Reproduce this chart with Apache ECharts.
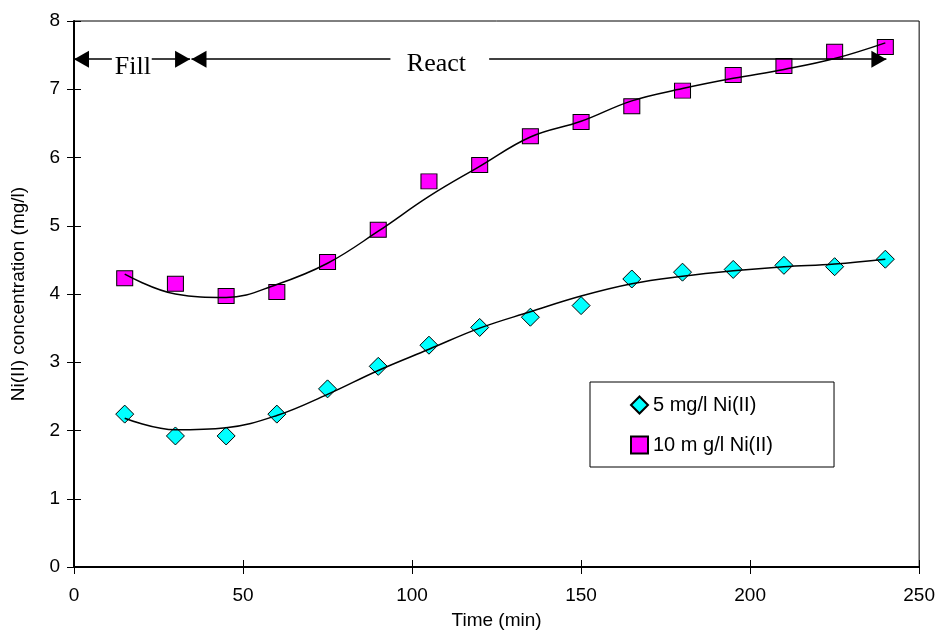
<!DOCTYPE html>
<html>
<head>
<meta charset="utf-8">
<script src="https://cdn.jsdelivr.net/npm/echarts@6/dist/echarts.min.js"></script>
<style>
html,body{margin:0;padding:0;background:#fff;}
#chart{width:938px;height:635px;}
</style>
</head>
<body>
<div id="chart"></div>
<script>
// ---- data ----
const timeMin = [15, 30, 45, 60, 75, 90, 105, 120, 135, 150, 165, 180, 195, 210, 225, 240];
const conc5 = [2.24, 1.92, 1.92, 2.24, 2.61, 2.94, 3.25, 3.51, 3.66, 3.83, 4.22, 4.32, 4.36, 4.42, 4.40, 4.51];
const conc10 = [4.23, 4.15, 3.97, 4.03, 4.47, 4.94, 5.65, 5.89, 6.31, 6.52, 6.75, 6.98, 7.21, 7.34, 7.55, 7.62];
const trend5 = [2.18, 2.01, 2.04, 2.22, 2.53, 2.88, 3.19, 3.50, 3.74, 3.97, 4.15, 4.26, 4.34, 4.40, 4.44, 4.51];
const trend10 = [4.29, 4.00, 3.95, 4.14, 4.45, 4.92, 5.43, 5.87, 6.30, 6.53, 6.83, 7.01, 7.16, 7.29, 7.45, 7.68];
const seriesNames = ['5 mg/l Ni(II)', '10 m g/l Ni(II)'];
const xTicks = [0, 50, 100, 150, 200, 250];
const yTicks = [0, 1, 2, 3, 4, 5, 6, 7, 8];
const xTitle = 'Time (min)';
const yTitle = 'Ni(II) concentration (mg/l)';
// phase annotations (minutes) and arrow level (mg/l)
const phaseLabels = ['Fill', 'React'];
const phaseLabelX = [17.4, 107.2];
const phaseLabelY = [7.33, 7.37];
const arrowY = 7.44;
const fillRange = [0, 34.33];
const fillGap = [11.2, 23.0];
const reactRange = [34.75, 240.3];
const reactGap = [93.6, 122.8];

const pts = (xs, ys) => xs.map((x, i) => [x, ys[i]]);
const SANS = 'Liberation Sans';
const SERIF = 'Liberation Serif';

const arrowHead = {symbol: 'triangle', symbolSize: [17, 15], symbolOffset: [0, 7.5]};
const noHead = {symbol: 'none'};
function seg(a, b, headA, headB) {
  return [Object.assign({coord: [a, arrowY]}, headA), Object.assign({coord: [b, arrowY]}, headB)];
}

const chart = echarts.init(document.getElementById('chart'));
const baseX = {type: 'value', min: xTicks[0], max: xTicks[xTicks.length - 1], interval: xTicks[1] - xTicks[0]};
const baseY = {type: 'value', min: yTicks[0], max: yTicks[yTicks.length - 1], interval: yTicks[1] - yTicks[0]};

chart.setOption({
  animation: false,
  backgroundColor: '#fff',
  grid: {left: 74, right: 15, top: 21, bottom: 61, show: true, borderColor: '#000', borderWidth: 1, backgroundColor: 'transparent'},
  legend: {
    orient: 'vertical', left: 590, top: 382,
    data: seriesNames,
    backgroundColor: '#fff', borderColor: '#000', borderWidth: 1,
    padding: [13, 61, 12, 40], itemGap: 20, itemWidth: 17, itemHeight: 17,
    textStyle: {fontFamily: SANS, fontSize: 20, color: '#000'}
  },
  xAxis: [
    Object.assign({}, baseX, {
      name: xTitle, nameLocation: 'middle', nameGap: 44,
      nameTextStyle: {fontFamily: SANS, fontSize: 19, color: '#000'},
      axisLine: {show: true, onZero: false, lineStyle: {color: '#000', width: 2}},
      axisTick: {show: true, inside: false, length: 7, lineStyle: {color: '#000', width: 1}},
      axisLabel: {fontFamily: SANS, fontSize: 19, color: '#000', margin: 19},
      splitLine: {show: false}
    }),
    Object.assign({}, baseX, {
      position: 'bottom',
      axisLine: {show: false}, axisLabel: {show: false}, splitLine: {show: false},
      axisTick: {show: true, inside: true, length: 7, lineStyle: {color: '#000', width: 1}}
    })
  ],
  yAxis: [
    Object.assign({}, baseY, {
      name: yTitle, nameLocation: 'middle', nameGap: 46, nameRotate: 90,
      nameTextStyle: {fontFamily: SANS, fontSize: 19, color: '#000'},
      axisLine: {show: true, onZero: false, lineStyle: {color: '#000', width: 2}},
      axisTick: {show: true, inside: false, length: 7, lineStyle: {color: '#000', width: 1}},
      axisLabel: {fontFamily: SANS, fontSize: 19, color: '#000', margin: 14},
      splitLine: {show: false}
    }),
    Object.assign({}, baseY, {
      position: 'left',
      axisLine: {show: false}, axisLabel: {show: false}, splitLine: {show: false},
      axisTick: {show: true, inside: true, length: 7, lineStyle: {color: '#000', width: 1}}
    })
  ],
  series: [
    {
      name: seriesNames[0], type: 'scatter', z: 2,
      data: pts(timeMin, conc5),
      symbol: 'diamond', symbolSize: 18,
      itemStyle: {color: '#00FFFF', borderColor: '#000', borderWidth: 1, opacity: 1}
    },
    {
      name: seriesNames[1], type: 'scatter', z: 2,
      data: pts(timeMin, conc10),
      symbol: 'rect', symbolSize: [16, 15],
      itemStyle: {color: '#FF00FF', borderColor: '#000', borderWidth: 1, opacity: 1}
    },
    {
      name: 'trend5', type: 'line', z: 3, smooth: 0.4, showSymbol: false, symbol: 'none',
      data: pts(timeMin, trend5),
      lineStyle: {color: '#000', width: 1.5}
    },
    {
      name: 'trend10', type: 'line', z: 3, smooth: 0.4, showSymbol: false, symbol: 'none',
      data: pts(timeMin, trend10),
      lineStyle: {color: '#000', width: 1.5}
    },
    {
      name: 'phases', type: 'scatter', data: [], z: 4,
      markLine: {
        silent: true, animation: false,
        lineStyle: {color: '#000', width: 1.5, type: 'solid'},
        itemStyle: {color: '#000'},
        label: {show: false},
        emphasis: {disabled: true},
        data: [
          seg(fillRange[0], fillGap[0], arrowHead, noHead),
          seg(fillGap[1], fillRange[1], noHead, arrowHead),
          seg(reactRange[0], reactGap[0], arrowHead, noHead),
          seg(reactGap[1], reactRange[1], noHead, arrowHead)
        ]
      },
      markPoint: {
        silent: true, animation: false,
        symbol: 'circle', symbolSize: 0,
        label: {show: true, position: 'inside', formatter: '{b}', fontFamily: SERIF, fontSize: 26, color: '#000'},
        data: phaseLabels.map((t, i) => ({name: t, coord: [phaseLabelX[i], phaseLabelY[i]]}))
      }
    }
  ]
});
</script>
</body>
</html>
